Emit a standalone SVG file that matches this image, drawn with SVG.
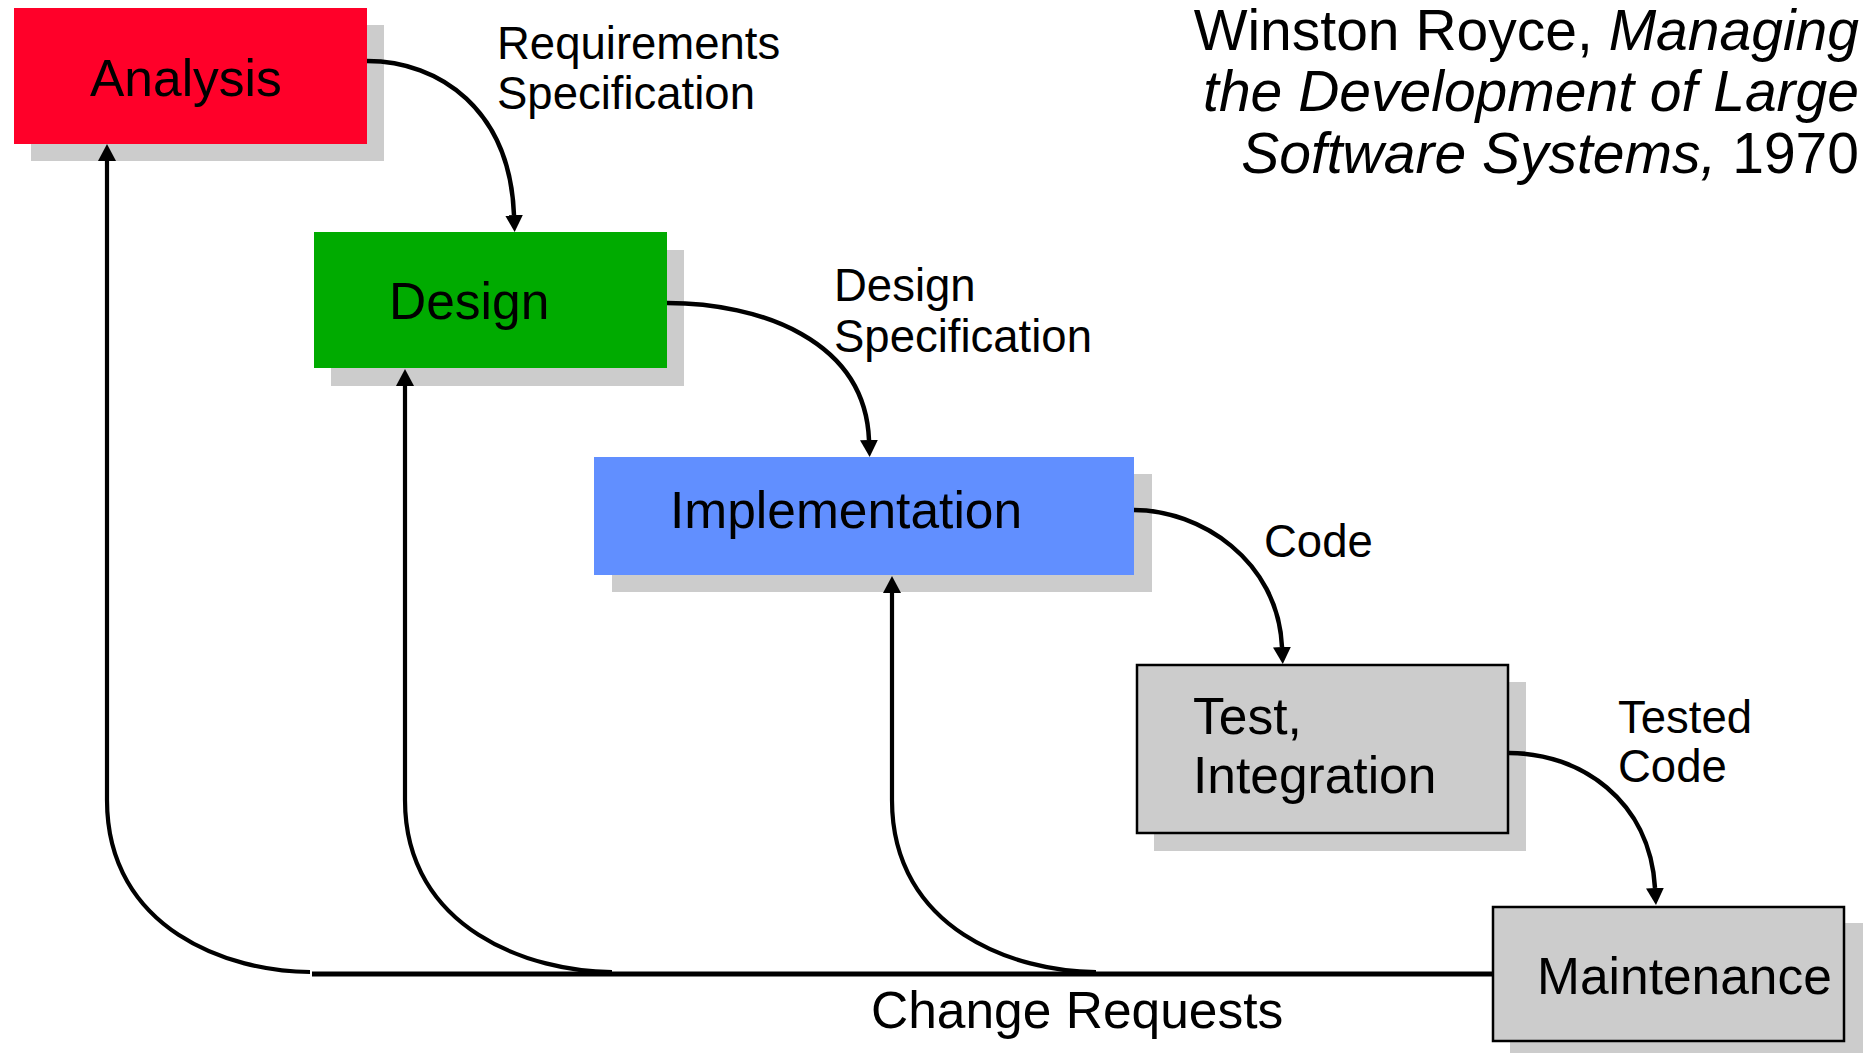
<svg xmlns="http://www.w3.org/2000/svg" width="1874" height="1053" viewBox="0 0 1874 1053">
<style>
text{font-family:"Liberation Sans",Arial,sans-serif;fill:#000}
.box{font-size:51.5px}
.lbl{font-size:45.5px}
.title{font-size:57px}
.shadow{fill:#cccccc}
.conn{fill:none;stroke:#000;stroke-width:4.5}
.back{fill:none;stroke:#000;stroke-width:4.2}
.bordered{stroke:#000;stroke-width:2.5}
</style>
<defs>
<marker id="ah" markerUnits="userSpaceOnUse" markerWidth="18" markerHeight="18" refX="0" refY="8.5" orient="auto" viewBox="0 0 17 17">
<path d="M0,0 L16,8.5 L0,17 z" fill="#000"/>
</marker>
</defs>
<rect width="1874" height="1053" fill="#fff"/>
<g id="title">
<text class="title" x="1859" y="50" text-anchor="end">Winston Royce, <tspan font-style="italic">Managing</tspan></text>
<text class="title" x="1859" y="111" text-anchor="end" font-style="italic">the Development of Large</text>
<text class="title" x="1859" y="173" text-anchor="end"><tspan font-style="italic">Software Systems,</tspan> 1970</text>
</g>
<g id="analysis">
<rect class="shadow" x="31" y="25" width="353" height="136"/>
<rect x="14" y="8" width="353" height="136" fill="#ff0029"/>
<text class="box" x="90" y="96">Analysis</text>
</g>
<g id="design">
<rect class="shadow" x="331" y="250" width="353" height="136"/>
<rect x="314" y="232" width="353" height="136" fill="#00ab00"/>
<text class="box" x="389" y="319">Design</text>
</g>
<g id="implementation">
<rect class="shadow" x="612" y="474" width="540" height="118"/>
<rect x="594" y="457" width="540" height="118" fill="#618fff"/>
<text class="box" x="670" y="528">Implementation</text>
</g>
<g id="test">
<rect class="shadow" x="1154" y="682" width="372" height="169"/>
<rect class="bordered" x="1137" y="665" width="371" height="168" fill="#cccccc"/>
<text class="box" x="1193" y="734">Test,</text>
<text class="box" x="1193" y="793">Integration</text>
</g>
<g id="maintenance">
<rect class="shadow" x="1510" y="923" width="353" height="140"/>
<rect class="bordered" x="1493" y="907" width="351" height="134" fill="#cccccc"/>
<text class="box" x="1537" y="994">Maintenance</text>
</g>
<g id="connectors">
<path class="conn" d="M367,61 C440,61 510,110 514,215" marker-end="url(#ah)"/>
<path class="conn" d="M667,303 C760,303 865,340 869,440" marker-end="url(#ah)"/>
<path class="conn" d="M1134,510 C1200,510 1278,560 1282,647" marker-end="url(#ah)"/>
<path class="conn" d="M1509,753 C1580,753 1650,800 1655,888" marker-end="url(#ah)"/>
<path class="back" d="M310,972 C230,972 107,930 107,800 L107,161" marker-end="url(#ah)"/>
<path class="back" d="M612,972 C532,972 405,930 405,800 L405,386" marker-end="url(#ah)"/>
<path class="back" d="M1096,972 C1016,972 892,930 892,800 L892,593" marker-end="url(#ah)"/>
<line x1="312" y1="974" x2="1493" y2="974" stroke="#000" stroke-width="5"/>
</g>
<g id="labels">
<text class="lbl" x="497" y="59">Requirements</text>
<text class="lbl" x="497" y="109">Specification</text>
<text class="lbl" x="834" y="301">Design</text>
<text class="lbl" x="834" y="352">Specification</text>
<text class="lbl" x="1264" y="557">Code</text>
<text class="lbl" x="1618" y="733">Tested</text>
<text class="lbl" x="1618" y="782">Code</text>
<text class="box" x="871" y="1028">Change Requests</text>
</g>
</svg>
